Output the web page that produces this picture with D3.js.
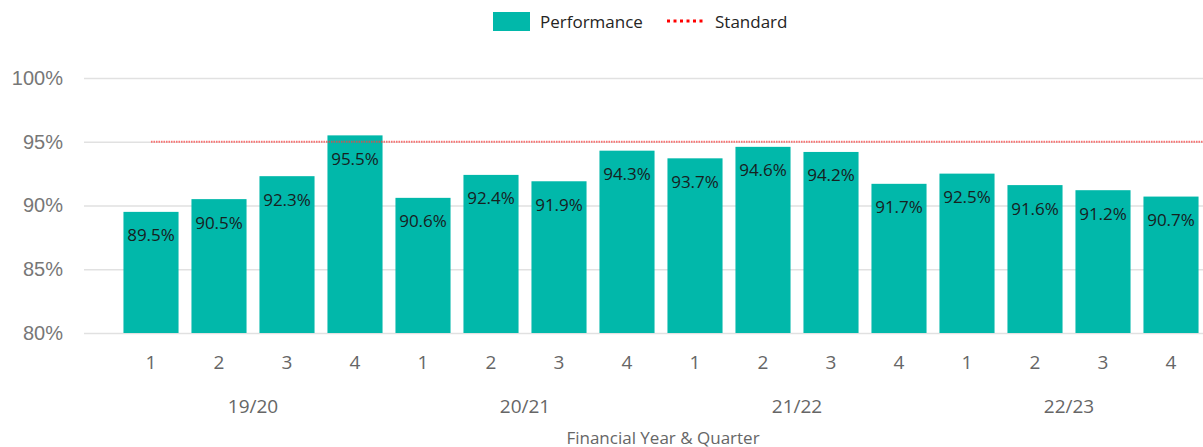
<!DOCTYPE html>
<html>
<head>
<meta charset="utf-8">
<script src="https://cdn.jsdelivr.net/npm/d3@7"></script>
<style>
  body { margin: 0; background: #fff; }
  svg { font-family: "Open Sans", sans-serif; }
</style>
</head>
<body>
<svg id="chart"></svg>
<script>
var years = ["19/20", "20/21", "21/22", "22/23"]
var quarters = ["1", "2", "3", "4"]
var performance = [89.5, 90.5, 92.3, 95.5, 90.6, 92.4, 91.9, 94.3, 93.7, 94.6, 94.2, 91.7, 92.5, 91.6, 91.2, 90.7]
var standard = 95
var yTicks = [80, 85, 90, 95, 100]

var dataset = []
years.forEach(function(yr, i){
    quarters.forEach(function(q, j){
        dataset.push({key: yr + "-" + q, year: yr, quarter: q, value: performance[i * 4 + j]})
    })
})

var dimensions = {
    width: 1203,
    height: 447,
    margin: {
        top: 78,
        bottom: 114,
        left: 84,
        right: 0
    }
}

var svg = d3.select("#chart")
            .attr("width", dimensions.width)
            .attr("height", dimensions.height)

var xScale = d3.scaleBand()
                .domain(dataset.map(d => d.key))
                .range([117, 1205])
                .paddingInner(0.19)
                .paddingOuter(0.095)

var yScale = d3.scaleLinear()
                .domain([80, 100])
                .range([dimensions.height - dimensions.margin.bottom, dimensions.margin.top])

// gridlines
var yAxisGen = d3.axisLeft(yScale)
                .tickValues(yTicks)
                .tickSize(-(dimensions.width - dimensions.margin.left - dimensions.margin.right))
                .tickFormat(d => d + "%")
var yAxis = svg.append("g")
                .attr("transform", `translate(${dimensions.margin.left},0)`)
                .call(yAxisGen)
yAxis.select(".domain").remove()
yAxis.selectAll("line").attr("stroke", "#e1e1e1").attr("stroke-width", 1.5)
yAxis.selectAll("text")
    .attr("x", -21)
    .attr("fill", "#777")
    .style("font-size", "20px")

// bars
svg.append("g")
    .selectAll("rect")
    .data(dataset)
    .join("rect")
    .attr("x", d => xScale(d.key))
    .attr("y", d => yScale(d.value))
    .attr("width", xScale.bandwidth())
    .attr("height", d => yScale(80) - yScale(d.value))
    .attr("fill", "#01B8AA")

// standard line
svg.append("line")
    .attr("x1", xScale(dataset[0].key) + xScale.bandwidth() / 2)
    .attr("x2", dimensions.width)
    .attr("y1", yScale(standard))
    .attr("y2", yScale(standard))
    .attr("stroke", "#ff3b3b")
    .attr("stroke-opacity", 0.7)
    .attr("stroke-width", 2)
    .attr("stroke-dasharray", "1.5,1")

// data labels
svg.append("g")
    .selectAll("text")
    .data(dataset)
    .join("text")
    .attr("x", d => xScale(d.key) + xScale.bandwidth() / 2)
    .attr("y", d => yScale(d.value) + 23)
    .attr("text-anchor", "middle")
    .attr("dominant-baseline", "central")
    .attr("fill", "#17211f")
    .style("font-size", "17px")
    .text(d => d.value.toFixed(1) + "%")

// quarter labels
svg.append("g")
    .selectAll("text")
    .data(dataset)
    .join("text")
    .attr("x", d => xScale(d.key) + xScale.bandwidth() / 2)
    .attr("y", 362)
    .attr("text-anchor", "middle")
    .attr("dominant-baseline", "central")
    .attr("fill", "#666")
    .style("font-size", "19px")
    .text(d => d.quarter)

// year labels
svg.append("g")
    .selectAll("text")
    .data(years)
    .join("text")
    .attr("x", d => (xScale(d + "-2") + xScale(d + "-3") + xScale.bandwidth()) / 2)
    .attr("y", 406)
    .attr("text-anchor", "middle")
    .attr("dominant-baseline", "central")
    .attr("fill", "#666")
    .style("font-size", "19px")
    .text(d => d)

// axis title
svg.append("text")
    .attr("x", 663)
    .attr("y", 437)
    .attr("text-anchor", "middle")
    .attr("dominant-baseline", "central")
    .attr("fill", "#666")
    .style("font-size", "17px")
    .text("Financial Year & Quarter")

// legend
var legend = svg.append("g")

legend.append("rect")
    .attr("x", 493)
    .attr("y", 12)
    .attr("width", 37)
    .attr("height", 19)
    .attr("fill", "#01B8AA")

legend.append("text")
    .attr("x", 540)
    .attr("y", 21)
    .attr("dominant-baseline", "central")
    .attr("fill", "#252423")
    .style("font-size", "17px")
    .text("Performance")

legend.append("line")
    .attr("x1", 667)
    .attr("x2", 706)
    .attr("y1", 21)
    .attr("y2", 21)
    .attr("stroke", "#ff0000")
    .attr("stroke-width", 3)
    .attr("stroke-dasharray", "3,3.5")

legend.append("text")
    .attr("x", 715)
    .attr("y", 21)
    .attr("dominant-baseline", "central")
    .attr("fill", "#252423")
    .style("font-size", "17px")
    .text("Standard")
</script>
</body>
</html>
